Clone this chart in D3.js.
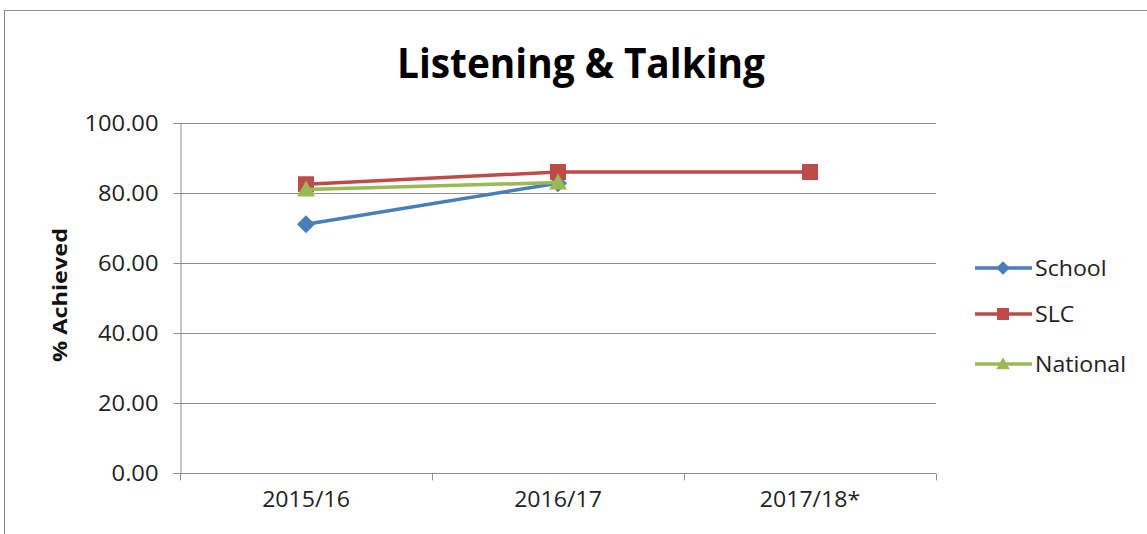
<!DOCTYPE html>
<html><head><meta charset="utf-8">
<script src="https://cdn.jsdelivr.net/npm/d3@7"></script>
<style>body{margin:0;background:#fff;} svg{display:block;}</style>
</head><body>
<svg id="c" width="1147" height="534"></svg>
<script>
const categories = ["2015/16", "2016/17", "2017/18*"];
const schoolValues = [71.1, 82.8, null];
const slcValues = [82.5, 86.0, 86.0];
const nationalValues = [81.0, 83.0, null];
const yTicks = [0, 20, 40, 60, 80, 100];
const seriesNames = ["School", "SLC", "National"];

const series = [
  {name: seriesNames[0], values: schoolValues, color: "#4A7EBB", shape: "diamond"},
  {name: seriesNames[1], values: slcValues, color: "#BE4B48", shape: "square"},
  {name: seriesNames[2], values: nationalValues, color: "#98B954", shape: "triangle"}
];

const svg = d3.select("#c");
const font = "'Open Sans', 'Liberation Sans', sans-serif";

function stretch(sel, f) {
  sel.each(function() {
    const w = this.getComputedTextLength();
    d3.select(this).attr("textLength", w * f).attr("lengthAdjust", "spacingAndGlyphs");
  });
}

// frame
svg.append("rect").attr("x", 4.5).attr("y", 10.5).attr("width", 1160).attr("height", 540)
  .attr("fill", "#fff").attr("stroke", "#8a8a8a").attr("stroke-width", 1);

const pLeft = 180, pRight = 936, pTop = 123, pBottom = 473;
const x = d3.scaleBand().domain(categories).range([pLeft, pRight]);
const y = d3.scaleLinear().domain([0, 100]).range([pBottom, pTop]);

// title
svg.append("text").attr("x", 581).attr("y", 78).attr("text-anchor", "middle")
  .attr("font-family", font).attr("font-weight", "bold").attr("font-size", 41)
  .attr("textLength", 368).attr("lengthAdjust", "spacingAndGlyphs")
  .text("Listening & Talking");

// gridlines
svg.append("g").selectAll("line").data(yTicks.filter(d => d > 0)).join("line")
  .attr("x1", pLeft).attr("x2", pRight).attr("y1", d => Math.round(y(d)) + 0.5).attr("y2", d => Math.round(y(d)) + 0.5)
  .attr("stroke", "#8c8c8c").attr("stroke-width", 1);

// y axis
const yAxis = d3.axisLeft(y).tickValues(yTicks).tickFormat(d3.format(".2f")).tickSize(7).tickPadding(15);
const gy = svg.append("g").attr("transform", `translate(${pLeft + 0.5},0)`).call(yAxis);
gy.selectAll("path,line").attr("stroke", "#8c8c8c");
gy.selectAll("text").attr("font-family", font).attr("font-size", 21).attr("fill", "#222").attr("dy", "0.36em");
stretch(gy.selectAll("text"), 1.13);

// x axis
const gx = svg.append("g").attr("transform", `translate(0,${pBottom + 0.5})`).call(
  d3.axisBottom(x).tickSize(0).tickPadding(20));
gx.select("path").attr("stroke", "#8c8c8c").attr("d", `M${pLeft},0H${pRight}`);
gx.selectAll("text").attr("font-family", font).attr("font-size", 21).attr("fill", "#222").attr("dy", "0.62em");
stretch(gx.selectAll("text"), 1.1);
const bounds = [...categories.map(c => x(c)), pRight];
gx.selectAll(".bt").data(bounds).join("line").attr("class", "bt")
  .attr("x1", d => Math.round(d) + 0.5).attr("x2", d => Math.round(d) + 0.5).attr("y1", 0).attr("y2", 7)
  .attr("stroke", "#8c8c8c");

// y axis title
svg.append("text").attr("transform", "translate(67,295) rotate(-90)").attr("text-anchor", "middle")
  .attr("font-family", font).attr("font-weight", "bold").attr("font-size", 20).attr("fill", "#111")
  .attr("textLength", 134).attr("lengthAdjust", "spacingAndGlyphs")
  .text("% Achieved");

function symbolPath(shape) {
  if (shape === "diamond") return "M0,-9L9,0L0,9L-9,0Z";
  if (shape === "square") return "M-8,-8H8V8H-8Z";
  return "M0,-9L9,7H-9Z";
}

const cx = c => x(c) + x.bandwidth() / 2;
const line = d3.line().defined(d => d.v != null).x(d => cx(d.c)).y(d => y(d.v));

series.forEach(s => {
  const pts = categories.map((c, i) => ({c, v: s.values[i]}));
  const g = svg.append("g");
  g.append("path").attr("d", line(pts)).attr("fill", "none").attr("stroke", s.color)
    .attr("stroke-width", 3.5).attr("stroke-linejoin", "round");
  g.selectAll("path.m").data(pts.filter(d => d.v != null)).join("path").attr("class", "m")
    .attr("d", symbolPath(s.shape)).attr("transform", d => `translate(${cx(d.c)},${y(d.v)})`)
    .attr("fill", s.color);
});

// legend
const legY = [268, 314, 364];
series.forEach((s, i) => {
  const g = svg.append("g").attr("transform", `translate(0,${legY[i]})`);
  g.append("line").attr("x1", 975).attr("x2", 1032).attr("y1", 0).attr("y2", 0)
    .attr("stroke", s.color).attr("stroke-width", 3.5);
  g.append("path").attr("d", symbolPath(s.shape)).attr("transform", "translate(1003,0) scale(0.75)").attr("fill", s.color);
  const t = g.append("text").attr("x", 1035).attr("y", 0).attr("dy", "0.36em")
    .attr("font-family", font).attr("font-size", 21).attr("fill", "#222").text(s.name);
  stretch(t, 1.1);
});
</script>
</body></html>
